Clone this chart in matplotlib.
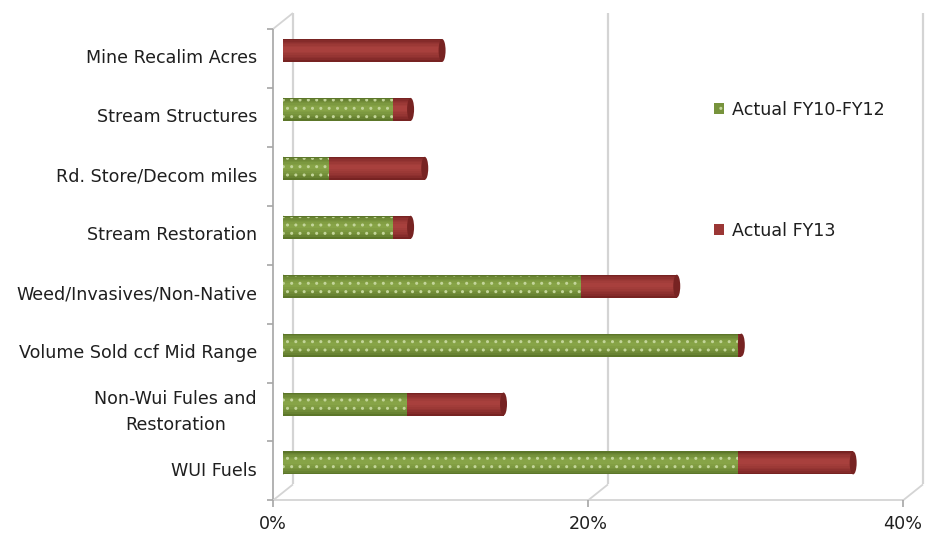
import matplotlib.pyplot as plt
from matplotlib.colors import to_rgb
from matplotlib.patches import Ellipse, Patch

# values, top row first
categories = ["Mine Recalim Acres", "Stream Structures", "Rd. Store/Decom miles",
              "Stream Restoration", "Weed/Invasives/Non-Native",
              "Volume Sold ccf Mid Range", "Non-Wui Fules and\nRestoration", "WUI Fuels"]
actual_fy10_fy12 = [0.0, 7.0, 2.9, 7.0, 18.9, 28.9, 7.9, 28.9]
actual_fy13 = [10.1, 1.1, 6.1, 1.1, 6.1, 0.2, 6.1, 7.3]
x_ticks = [0, 20, 40]
x_tick_labels = ["0%", "20%", "40%"]

GREEN, GREEN_DK, GREEN_LT = "#77933c", "#5c7629", "#87a447"
RED, RED_DK, RED_LT = "#9b3735", "#772322", "#a8403d"
WALL, AXC, TXT = "#d4d4d4", "#a6a6a6", "#1f1f1f"
FS = 12.6

DPI = 100
W, H = 925, 542
ax_left, ax_right, ax_top, ax_bot = 283, 913, 21, 492.4

fig = plt.figure(figsize=(W / DPI, H / DPI), dpi=DPI)
ax = fig.add_axes([ax_left / W, (H - ax_bot) / H, (ax_right - ax_left) / W, (ax_bot - ax_top) / H])
ax.set_xlim(0, 40)
ax.set_ylim(-0.5, 7.5)
ax.axis("off")

px_x = (ax_right - ax_left) / 40.0
px_y = (ax_bot - ax_top) / 8.0
dx, dy = 10 / px_x, 8 / px_y   # half depth of the fake 3d box
y0, y1 = -0.5, 7.5

line_kw = dict(clip_on=False, solid_capstyle="butt")
# back wall gridlines
for x in x_ticks:
    ax.plot([x + dx, x + dx], [y0 + dy, y1 + dy], color=WALL, lw=1.6, zorder=1, **line_kw)
    ax.plot([x - dx, x + dx], [y0 - dy, y0 + dy], color=WALL, lw=1.3, zorder=1, **line_kw)
ax.plot([-dx, dx], [y1 - dy, y1 + dy], color=WALL, lw=1.3, zorder=1, **line_kw)

# front axes
ax.plot([-dx, -dx], [y0 - dy, y1 - dy], color=AXC, lw=1.2, zorder=1, **line_kw)
ax.plot([-dx, 40 - dx], [y0 - dy, y0 - dy], color=WALL, lw=1.3, zorder=1, **line_kw)
for k in range(9):
    yy = y0 + k - dy
    ax.plot([-dx - 6 / px_x, -dx], [yy, yy], color=AXC, lw=1.2, **line_kw)
for x, lab in zip(x_ticks, x_tick_labels):
    ax.plot([x - dx, x - dx], [y0 - dy, y0 - dy - 7 / px_y], color=AXC, lw=1.2, **line_kw)
    ax.text(x - dx, y0 - dy - 24 / px_y, lab, ha="center", va="center",
            fontsize=FS, color=TXT)

n = len(categories)
for i, cat in enumerate(categories):
    ax.text(-dx - 16 / px_x, (n - 1 - i) - dy, cat, ha="right", va="center",
            multialignment="center", fontsize=FS, color=TXT, linespacing=1.55)

# cylinder-ish bars
bh = 0.39
cap_w = 7 / px_x
steps = 7


def mix(c1, c2, t):
    a, b = to_rgb(c1), to_rgb(c2)
    return tuple(a[j] + (b[j] - a[j]) * t for j in range(3))


def cyl(y, left, width, dark, light, dots=False):
    if width <= 0:
        return
    for s in range(steps):
        t = s / (steps - 1)
        ax.barh(y + 0.02 * t, width, left=left, height=bh * (1 - 0.8 * t),
                color=mix(dark, light, t ** 0.7), lw=0, zorder=3)
    if dots:
        ax.barh(y, width, left=left, height=bh * 0.9, fill=False, hatch="..",
                edgecolor="#c3d59a", lw=0, zorder=4)


for i in range(n):
    y = n - 1 - i
    g, r = actual_fy10_fy12[i], actual_fy13[i]
    ax.add_patch(Ellipse((0, y), cap_w, bh, color=GREEN_DK if g > 0 else RED_DK, lw=0, zorder=2))
    cyl(y, 0, g, GREEN_DK, GREEN_LT, dots=True)
    cyl(y, g, r, RED_DK, RED_LT)
    ax.add_patch(Ellipse((g + r, y), cap_w, bh, color=RED_DK, lw=0, zorder=5))

handles = [Patch(facecolor=GREEN, edgecolor="#c6d79e", hatch="..", lw=0),
           Patch(facecolor=RED, lw=0)]
fig.legend(handles, ["Actual FY10-FY12", "Actual FY13"], loc="upper left",
           bbox_to_anchor=(705 / W, 1 - 92 / H), frameon=False, fontsize=FS,
           labelspacing=5.9, handlelength=0.6, handleheight=0.6, handletextpad=0.45,
           borderpad=0, labelcolor=TXT)

fig.savefig("out.png", dpi=DPI)
